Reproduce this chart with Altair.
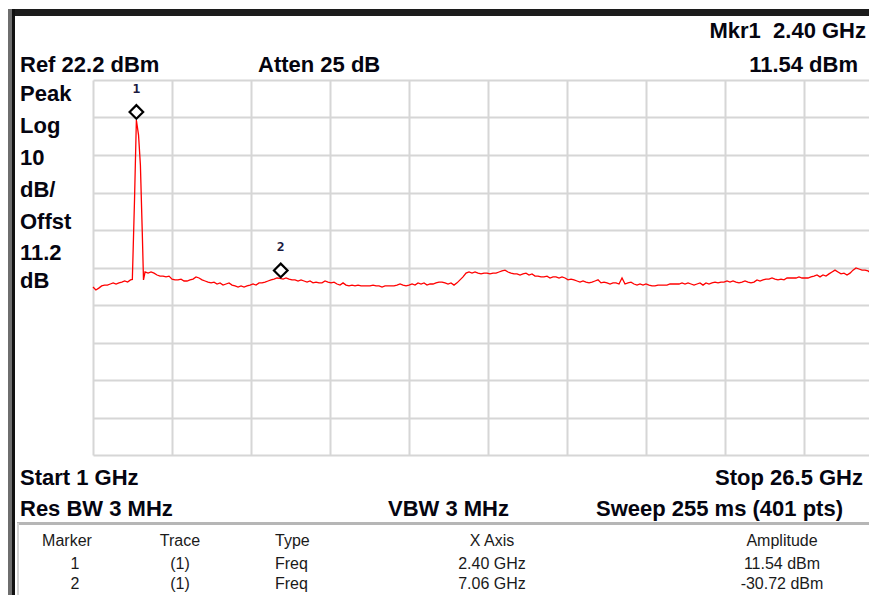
import altair as alt
import numpy as np
import pandas as pd

# ---------------- data ----------------
start_ghz, stop_ghz = 1.0, 26.5
ref_dbm, bottom_dbm = 22.2, -77.8
x_grid_ghz = [1.0, 3.55, 6.1, 8.65, 11.2, 13.75, 16.3, 18.85, 21.4, 23.95, 26.5]
y_grid_dbm = [22.2, 12.2, 2.2, -7.8, -17.8, -27.8, -37.8, -47.8, -57.8, -67.8, -77.8]

# noise floor before the carrier (1.00 - 2.21 GHz)
floor_a_dbm = [-33.0, -33.8, -33.3, -32.7, -32.5, -32.5, -32.2, -31.9, -32.2, -31.9,
               -31.7, -31.4, -31.7, -31.1]
# carrier at 2.4 GHz
spike_ghz = [2.27, 2.34, 2.40, 2.47, 2.53, 2.59, 2.63]
spike_dbm = [-31.0, -9.8, 11.54, 7.5, -0.5, -18.3, -31.1]
# noise floor after the carrier (2.68 - 26.5 GHz)
floor_b_dbm = [
    -29.0, -29.3, -29.0, -29.3, -29.8, -30.1, -30.1, -30.3, -30.1, -30.9,
    -31.1, -31.1, -30.9, -31.4, -31.4, -31.1, -30.9, -30.3, -30.6, -31.1,
    -31.4, -31.7, -31.9, -31.7, -32.2, -31.9, -32.5, -32.2, -31.9, -32.5,
    -32.7, -33.0, -32.7, -33.0, -32.7, -32.5, -32.2, -32.5, -31.9, -31.9,
    -31.7, -31.4, -31.1, -30.9, -30.6, -30.7, -30.9, -30.6, -30.9, -31.1,
    -31.1, -31.4, -31.1, -31.4, -31.7, -31.4, -31.9, -31.7, -31.9, -31.9,
    -31.4, -31.7, -31.9, -31.7, -32.2, -32.5, -31.9, -32.5, -32.7, -32.5,
    -32.7, -32.5, -32.7, -32.7, -32.7, -32.7, -32.5, -32.7, -32.7, -33.0,
    -32.7, -32.7, -32.7, -32.7, -32.5, -32.2, -32.5, -32.7, -32.5, -32.2,
    -32.5, -31.9, -32.2, -31.9, -32.5, -32.2, -32.2, -31.9, -31.7, -31.7,
    -31.9, -32.2, -31.9, -32.5, -31.9, -31.1, -30.3, -29.3, -29.0, -29.3,
    -29.0, -29.3, -29.5, -29.3, -29.3, -29.5, -29.3, -29.3, -29.0, -28.7,
    -28.5, -29.0, -29.3, -29.5, -29.5, -29.8, -29.5, -29.3, -29.8, -29.5,
    -30.1, -30.1, -30.3, -30.3, -30.1, -30.6, -30.3, -30.3, -30.6, -30.3,
    -30.6, -31.1, -30.9, -31.1, -31.4, -31.7, -31.4, -31.7, -31.9, -31.7,
    -31.4, -31.1, -31.9, -31.7, -31.9, -32.2, -31.9, -31.9, -32.2, -30.6,
    -32.2, -31.9, -31.7, -32.2, -32.5, -32.2, -32.5, -32.2, -32.5, -32.7,
    -32.7, -32.5, -32.5, -32.5, -32.5, -32.2, -32.2, -32.2, -32.2, -31.9,
    -32.2, -31.9, -32.2, -32.5, -32.2, -31.9, -32.5, -31.9, -32.2, -31.9,
    -31.7, -31.9, -31.7, -31.7, -31.4, -31.7, -31.4, -31.7, -31.9, -31.7,
    -31.4, -31.7, -31.9, -31.7, -31.1, -31.4, -31.1, -30.9, -30.9, -30.6,
    -30.9, -31.1, -30.9, -31.1, -30.6, -30.6, -30.6, -30.6, -30.3, -30.6,
    -30.6, -30.6, -30.3, -30.1, -29.8, -30.3, -29.8, -30.1, -29.5, -29.0,
    -28.5, -29.0, -29.5, -29.3, -29.8, -29.3, -28.5, -27.9, -28.2, -28.5,
    -28.5, -28.7, -29.3, -29.0, -29.3, -29.0, -28.7,
]

marker_ids = ["1", "2"]
marker_ghz = [2.40, 7.06]
marker_dbm = [11.54, -30.72]

header_texts = ["Ref 22.2 dBm", "Atten 25 dB", "Mkr1\u00a0 2.40 GHz", "11.54 dBm"]
side_texts = ["Peak", "Log", "10", "dB/", "Offst", "11.2", "dB"]
footer_texts = ["Start 1 GHz", "Stop 26.5 GHz", "Res BW 3 MHz", "VBW 3 MHz",
                "Sweep 255 ms (401 pts)"]
table_header = ["Marker", "Trace", "Type", "X Axis", "Amplitude"]
table_rows = [
    ["1", "(1)", "Freq", "2.40 GHz", "11.54 dBm"],
    ["2", "(1)", "Freq", "7.06 GHz", "-30.72 dBm"],
]

# ---------------- build trace table ----------------
trace = pd.DataFrame({
    "ghz": list(np.linspace(start_ghz, 2.21, len(floor_a_dbm))) + spike_ghz
           + list(np.linspace(2.68, stop_ghz, len(floor_b_dbm))),
    "dbm": floor_a_dbm + spike_dbm + floor_b_dbm,
})
markers = pd.DataFrame({"ghz": marker_ghz, "dbm": marker_dbm, "id": marker_ids})

W, H = 861, 587
FONT = "Liberation Sans"
INK = "#050510"

xs = alt.Scale(domain=[start_ghz, stop_ghz], range=[85, 875], nice=False, zero=False)
ys = alt.Scale(domain=[bottom_dbm, ref_dbm], range=[447, 72], nice=False, zero=False)
grid_style = dict(labels=False, ticks=False, domain=False, grid=True,
                  gridColor="#d6d6d6", gridWidth=2, title="")
x_enc = alt.X("ghz:Q", scale=xs, axis=alt.Axis(orient="top", values=x_grid_ghz, **grid_style))
y_enc = alt.Y("dbm:Q", scale=ys, axis=alt.Axis(orient="left", values=y_grid_dbm, **grid_style))

line = alt.Chart(trace).mark_line(color="#ff0000", strokeWidth=1.3).encode(x=x_enc, y=y_enc)
pts = alt.Chart(markers).mark_point(
    shape="diamond", size=185, filled=True, fill="white", stroke="black",
    strokeWidth=2.2, opacity=1, yOffset=-8
).encode(x=x_enc, y=y_enc)
mlab = alt.Chart(markers).mark_text(
    font="DejaVu Sans Mono", fontSize=13, fontWeight="bold", color="#1a1a40",
    baseline="middle", dy=-31
).encode(x=x_enc, y=y_enc, text="id:N")


def band(x, x2, y, y2, color):
    return alt.Chart(pd.DataFrame({"k": [0]})).mark_rect(color=color).encode(
        x=alt.value(x), x2=alt.value(x2), y=alt.value(y), y2=alt.value(y2))


def label(text, x, y, size=22, weight="bold", align="left", color=INK):
    return alt.Chart(pd.DataFrame({"t": [text]})).mark_text(
        align=align, baseline="alphabetic", fontSize=size, fontWeight=weight,
        font=FONT, color=color
    ).encode(x=alt.value(x), y=alt.value(y), text="t:N")


layers = [line, pts, mlab]

# frame
layers += [
    band(0, W, 1, 8, "#1c1c1c"),
    band(0, 4, 1, H, "#6e6e6e"),
    band(4, 7, 1, H, "#111111"),
    band(9, W, 514, 517, "#b6b6b6"),
    band(9, 11, 515, H, "#d4d4d4"),
]

# header / side / footer texts
layers += [
    label(header_texts[0], 12, 64),
    label(header_texts[1], 250, 64),
    label(header_texts[2], 858, 30, align="right"),
    label(header_texts[3], 850, 64, align="right"),
]
side_y = [93, 125, 157, 189, 221, 252, 280]
layers += [label(t, 12, yy) for t, yy in zip(side_texts, side_y)]
layers += [
    label(footer_texts[0], 12, 477),
    label(footer_texts[1], 855, 477, align="right"),
    label(footer_texts[2], 12, 508),
    label(footer_texts[3], 380, 508),
    label(footer_texts[4], 835, 508, align="right"),
]

# marker table
col_x = [59, 172, 267, 484, 774]
col_align = ["center", "center", "left", "center", "center"]
row_x = [67, 172, 267, 484, 774]
for t, xx, al in zip(table_header, col_x, col_align):
    layers.append(label(t, xx, 538, size=16, weight="normal", align=al, color="#1a1a1a"))
for r, yy in zip(table_rows, [561, 581]):
    for t, xx, al in zip(r, row_x, col_align):
        layers.append(label(t, xx, yy, size=16, weight="normal", align=al, color="#1a1a1a"))

chart = alt.layer(*layers).properties(
    width=W, height=H, autosize=alt.AutoSizeParams(type="none"), padding=0,
    background="white"
).configure_view(strokeWidth=0)

chart.save("out.html", embed_options={"renderer": "svg", "actions": False})
